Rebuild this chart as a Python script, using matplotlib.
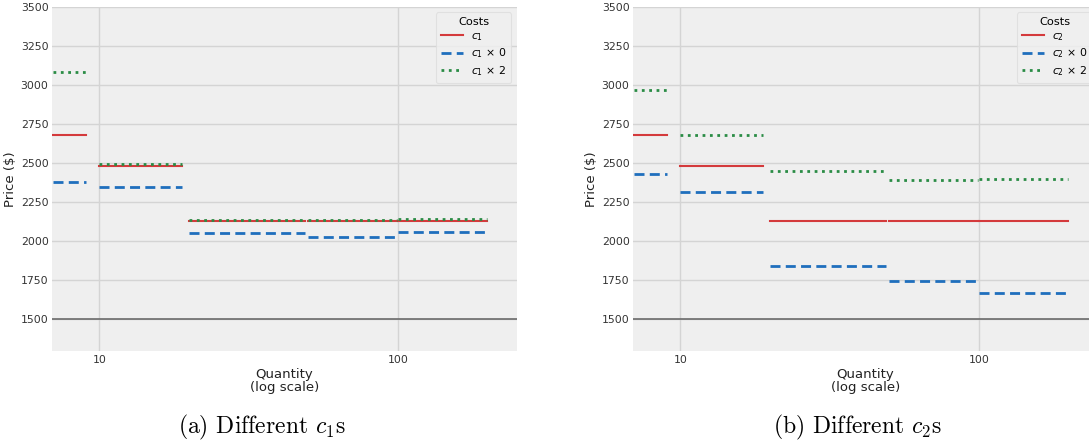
import matplotlib
matplotlib.use("Agg")
import matplotlib.pyplot as plt
from matplotlib.ticker import ScalarFormatter, NullFormatter, FixedLocator

# quantity tiers (start, end)
tier_start = [7, 10, 20, 50, 100]
tier_end = [9, 19, 49, 99, 199]

# panel (a): different c1
base = [2680, 2477, 2130, 2124, 2130]
c1_x0 = [2380, 2345, 2049, 2022, 2057]
c1_x2 = [3080, 2494, 2133, 2135, 2140]

# panel (b): different c2
c2_x0 = [2427, 2312, 1836, 1740, 1666]
c2_x2 = [2968, 2677, 2448, 2390, 2396]

floor_price = 1500
yticks = [1500, 1750, 2000, 2250, 2500, 2750, 3000, 3250, 3500]

RED = "#d43a3c"
BLUE = "#1f6fbd"
GREEN = "#2a8c45"

plt.rcParams["mathtext.fontset"] = "dejavusans"
plt.rcParams["axes.unicode_minus"] = False

fig = plt.figure(figsize=(10.89, 4.44), dpi=100)
ax1 = fig.add_axes([0.0478, 0.2085, 0.4267, 0.7757])
ax2 = fig.add_axes([0.5813, 0.2085, 0.4267, 0.7757])


def draw_tiers(ax, values, **kw):
    for i in range(len(values)):
        lab = kw.pop("label", None) if i == 0 else None
        ax.plot([tier_start[i], tier_end[i]], [values[i], values[i]], label=lab, **kw)


def setup(ax, name, low, high):
    ax.set_facecolor("#efefef")
    for s in ax.spines.values():
        s.set_visible(False)
    draw_tiers(ax, base, color=RED, lw=1.5, label="$%s$" % name)
    draw_tiers(ax, low, color=BLUE, lw=2.0, ls="--", dashes=(3.6, 1.9), label=r"$%s$ $\times$ 0" % name)
    draw_tiers(ax, high, color=GREEN, lw=2.0, ls=":", label=r"$%s$ $\times$ 2" % name)
    ax.axhline(floor_price, color="#6b6b6b", lw=1.2, zorder=1)

    ax.set_xscale("log")
    ax.set_xlim(6.95, 250)
    ax.set_ylim(1290, 3500)
    ax.set_yticks(yticks)
    ax.xaxis.set_major_locator(FixedLocator([10, 100]))
    ax.xaxis.set_major_formatter(ScalarFormatter())
    ax.xaxis.set_minor_formatter(NullFormatter())
    ax.tick_params(which="both", length=0, labelsize=7.8, colors="#333333", pad=2.5)
    ax.grid(True, which="major", color="#d4d4d4", lw=1.0)
    ax.set_axisbelow(True)

    ax.set_xlabel("Quantity\n(log scale)", fontsize=9.5, color="#222222", linespacing=1.0,
                  labelpad=2)
    ax.set_ylabel("Price ($)", fontsize=9.5, color="#222222", labelpad=3)

    leg = ax.legend(title="Costs", loc="upper right", fontsize=7.8, title_fontsize=8.2,
                    frameon=True, facecolor="#f0f0f0", edgecolor="#dddddd",
                    handlelength=2.1, borderpad=0.45, labelspacing=0.35,
                    handletextpad=0.7, borderaxespad=0.5)
    leg.get_frame().set_linewidth(0.8)


setup(ax1, "c_1", c1_x0, c1_x2)
setup(ax2, "c_2", c2_x0, c2_x2)

fig.text(0.2405, 0.038, r"(a) Different $c_1$s", ha="center", va="center",
         fontsize=17, family="cmr10", math_fontfamily="cm")
fig.text(0.787, 0.038, r"(b) Different $c_2$s", ha="center", va="center",
         fontsize=17, family="cmr10", math_fontfamily="cm")

fig.savefig("out.png", dpi=100, facecolor="white")
